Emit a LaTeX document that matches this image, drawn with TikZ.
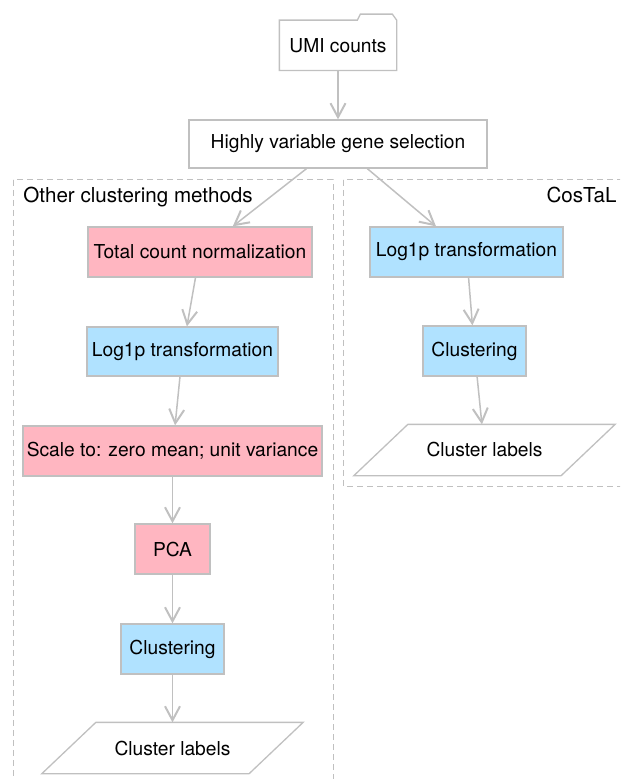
\documentclass[tikz,border=0pt]{standalone}
\usepackage{fontspec}
\setmainfont{TeX Gyre Heros}
\usetikzlibrary{arrows.meta}
\definecolor{edgegray}{HTML}{C0C0C0}
\definecolor{boxpink}{HTML}{FFB6C1}
\definecolor{boxblue}{HTML}{B0E2FF}
\tikzset{
  stepnode/.style={draw=edgegray, line width=0.65pt, minimum height=25pt, inner sep=0pt, font=\fontsize{9.6}{11}\selectfont},
  pinkstep/.style={stepnode, fill=boxpink, minimum width=#1},
  bluestep/.style={stepnode, fill=boxblue, minimum width=#1},
  plainstep/.style={stepnode, fill=white, minimum width=#1},
  outnode/.style={stepnode, draw=none, minimum width=103pt},
  outline/.style={edgegray, line width=0.65pt},
  flow/.style={draw=edgegray, line width=0.75pt, -{Straight Barb[length=7pt,width=7.5pt,line width=1pt]}},
  cluster/.style={draw=edgegray, dash pattern=on 3pt off 2pt, line width=0.5pt},
  clusterlabel/.style={font=\fontsize{10.3}{12}\selectfont, inner sep=0pt}
}
\begin{document}
\begin{tikzpicture}[x=0.5pt,y=-0.5pt]
\useasboundingbox (0,0) rectangle (620,779);
\clip (0,0) rectangle (620,779);
% cluster boxes
\draw[cluster] (13,180) rectangle (333,800);
\draw[cluster] (343,180) rectangle (627,486);
\node[clusterlabel, anchor=base west] (otherlbl) at (23,203) {Other clustering methods};
\node[clusterlabel, anchor=base east] (costallbl) at (617,203) {CosTaL};

% input and gene selection
\node[stepnode, draw=none, minimum width=58pt, minimum height=24.5pt] (umi) at (338,45.3) {UMI counts};
\draw[outline] (umi.south west) -- (umi.north west) -- ++(78,0) -- ++(3,-6) -- ++(32,0) -- (umi.north east) -- (umi.south east) -- cycle;
\node[plainstep=149pt, minimum height=24pt] (hvg) at (338,144) {Highly variable gene selection};

% other clustering methods
\node[pinkstep=112pt] (norm) at (200,252) {Total count normalization};
\node[bluestep=95.5pt, minimum height=24.5pt] (logL) at (182.5,351.5) {Log1p transformation};
\node[pinkstep=149.5pt] (scale) at (172.5,451) {Scale to: zero mean; unit variance};
\node[pinkstep=37.5pt] (pca) at (172.5,549) {PCA};
\node[bluestep=51.5pt] (clusL) at (172.5,649) {Clustering};
\node[outnode] (labL) at (172.5,748) {Cluster labels};
\draw[outline] ([xshift=13.5pt]labL.north west) -- ([xshift=13.5pt]labL.north east) -- ([xshift=-13.5pt]labL.south east) -- ([xshift=-13.5pt]labL.south west) -- cycle;

% CosTaL
\node[bluestep=96.5pt] (logR) at (466.5,252) {Log1p transformation};
\node[bluestep=51.5pt] (clusR) at (474.5,351) {Clustering};
\node[outnode] (labR) at (484.5,450) {Cluster labels};
\draw[outline] ([xshift=13.5pt]labR.north west) -- ([xshift=13.5pt]labR.north east) -- ([xshift=-13.5pt]labR.south east) -- ([xshift=-13.5pt]labR.south west) -- cycle;

% connectors
\draw[flow] (umi) -- (hvg);
\draw[flow] (hvg) -- (norm);
\draw[flow] (hvg) -- (logR);
\draw[flow] (norm) -- (logL);
\draw[flow] (logL) -- (scale);
\draw[flow] (scale) -- (pca);
\draw[flow] (pca) -- (clusL);
\draw[flow] (clusL) -- (labL);
\draw[flow] (logR) -- (clusR);
\draw[flow] (clusR) -- (labR);
\end{tikzpicture}
\end{document}
